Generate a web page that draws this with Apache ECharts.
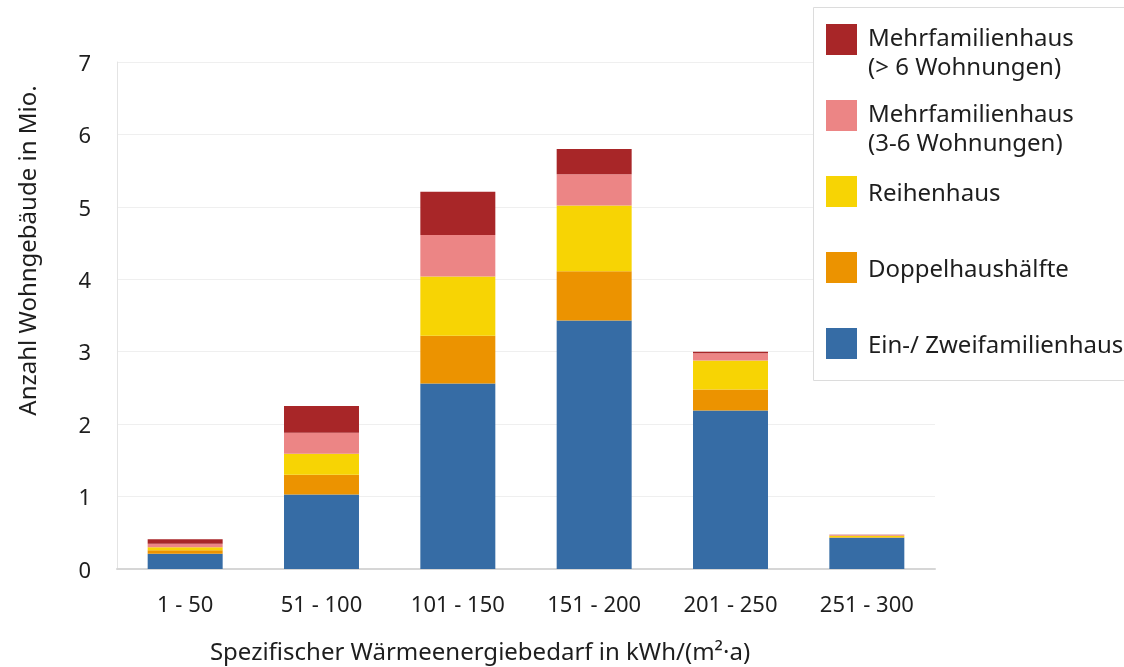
<!DOCTYPE html>
<html>
<head>
<meta charset="utf-8">
<title>Wohngebäude nach Wärmeenergiebedarf</title>
<script src="https://cdn.jsdelivr.net/npm/echarts@6/dist/echarts.min.js"></script>
<style>
  html, body { margin: 0; padding: 0; background: #fff; }
  #main { width: 1124px; height: 667px; }
</style>
</head>
<body>
<div id="main"></div>
<script>
  // Kategorien (kWh/(m²·a))
  var categories = ['1 - 50', '51 - 100', '101 - 150', '151 - 200', '201 - 250', '251 - 300'];

  // Werte in Mio. Wohngebäude
  var einZwei      = [0.21, 1.03, 2.56, 3.43, 2.19, 0.43];
  var doppelhaus   = [0.05, 0.27, 0.66, 0.68, 0.29, 0.01];
  var reihenhaus   = [0.04, 0.29, 0.82, 0.91, 0.40, 0.02];
  var mfh36        = [0.05, 0.29, 0.57, 0.43, 0.10, 0.01];
  var mfhGross     = [0.06, 0.37, 0.60, 0.35, 0.02, 0.003];

  var yTicks = [0, 1, 2, 3, 4, 5, 6, 7];

  var font = 'Noto Sans';
  var textColor = '#1e1e1e';
  var twoLine = {
    'Mehrfamilienhaus (> 6 Wohnungen)': 'Mehrfamilienhaus\n(> 6 Wohnungen)',
    'Mehrfamilienhaus (3-6 Wohnungen)': 'Mehrfamilienhaus\n(3-6 Wohnungen)'
  };

  var chart = echarts.init(document.getElementById('main'));

  function serie(name, data, color) {
    return {
      name: name,
      type: 'bar',
      stack: 'gesamt',
      barWidth: '55%',
      data: data,
      itemStyle: { color: color },
      emphasis: { disabled: true }
    };
  }

  // zweizeilige Einträge: erste Zeile auf Höhe des Kästchens
  var pad2 = [29.5, 0, 0.5, 6];
  var pad1 = [32.5, 0, 26.5, 6];

  chart.setOption({
    animation: false,
    textStyle: { fontFamily: font },
    grid: { left: 117, right: 189, top: 62, bottom: 98, outerBoundsMode: 'none' },
    graphic: [{
      type: 'rect',
      z: 3,
      shape: { x: 813.5, y: 7.5, width: 330, height: 373 },
      style: { fill: '#fff', stroke: '#dcdcdc', lineWidth: 1 }
    }],
    legend: {
      orient: 'vertical',
      left: 826,
      top: -4.5,
      padding: 0,
      itemGap: -12,
      itemWidth: 31,
      itemHeight: 31,
      z: 5,
      selectedMode: false,
      textStyle: {
        fontFamily: font, fontSize: 24, color: textColor, lineHeight: 29, padding: pad1,
        rich: { t: { fontFamily: font, fontSize: 24, color: textColor, lineHeight: 29 } }
      },
      formatter: function (n) {
        return (twoLine[n] || n).split('\n').map(function (s) { return '{t|' + s + '}'; }).join('\n');
      },
      data: [
        { name: 'Mehrfamilienhaus (> 6 Wohnungen)', icon: 'rect', textStyle: { padding: pad2 } },
        { name: 'Mehrfamilienhaus (3-6 Wohnungen)', icon: 'rect', textStyle: { padding: pad2 } },
        { name: 'Reihenhaus', icon: 'rect' },
        { name: 'Doppelhaushälfte', icon: 'rect' },
        { name: 'Ein-/ Zweifamilienhaus', icon: 'rect' }
      ]
    },
    xAxis: {
      type: 'category',
      data: categories,
      name: 'Spezifischer Wärmeenergiebedarf in kWh/(m²·a)',
      nameLocation: 'middle',
      nameGap: 72,
      nameTextStyle: { fontFamily: font, fontSize: 24, color: textColor, padding: [0, 92, 0, 0] },
      axisLine: { lineStyle: { color: '#d6d6d6', width: 2 } },
      axisTick: { show: false },
      axisLabel: { fontFamily: font, fontSize: 22, color: textColor, margin: 26 }
    },
    yAxis: {
      type: 'value',
      min: yTicks[0],
      max: yTicks[yTicks.length - 1],
      interval: 1,
      name: 'Anzahl Wohngebäude in Mio.',
      nameLocation: 'middle',
      nameGap: 76,
      nameTextStyle: { fontFamily: font, fontSize: 24, color: textColor, padding: [0, 0, 0, 130] },
      axisLine: { show: true, lineStyle: { color: '#e4e4e4', width: 1 } },
      axisTick: { show: false },
      splitLine: { lineStyle: { color: '#efefef', width: 1 } },
      axisLabel: {
        fontFamily: font, fontSize: 22, color: textColor, margin: 26,
        verticalAlign: 'top', lineHeight: 5
      }
    },
    series: [
      serie('Ein-/ Zweifamilienhaus', einZwei, '#366ca5'),
      serie('Doppelhaushälfte', doppelhaus, '#ec9300'),
      serie('Reihenhaus', reihenhaus, '#f7d404'),
      serie('Mehrfamilienhaus (3-6 Wohnungen)', mfh36, '#ec8585'),
      serie('Mehrfamilienhaus (> 6 Wohnungen)', mfhGross, '#a82628')
    ]
  });
</script>
</body>
</html>
